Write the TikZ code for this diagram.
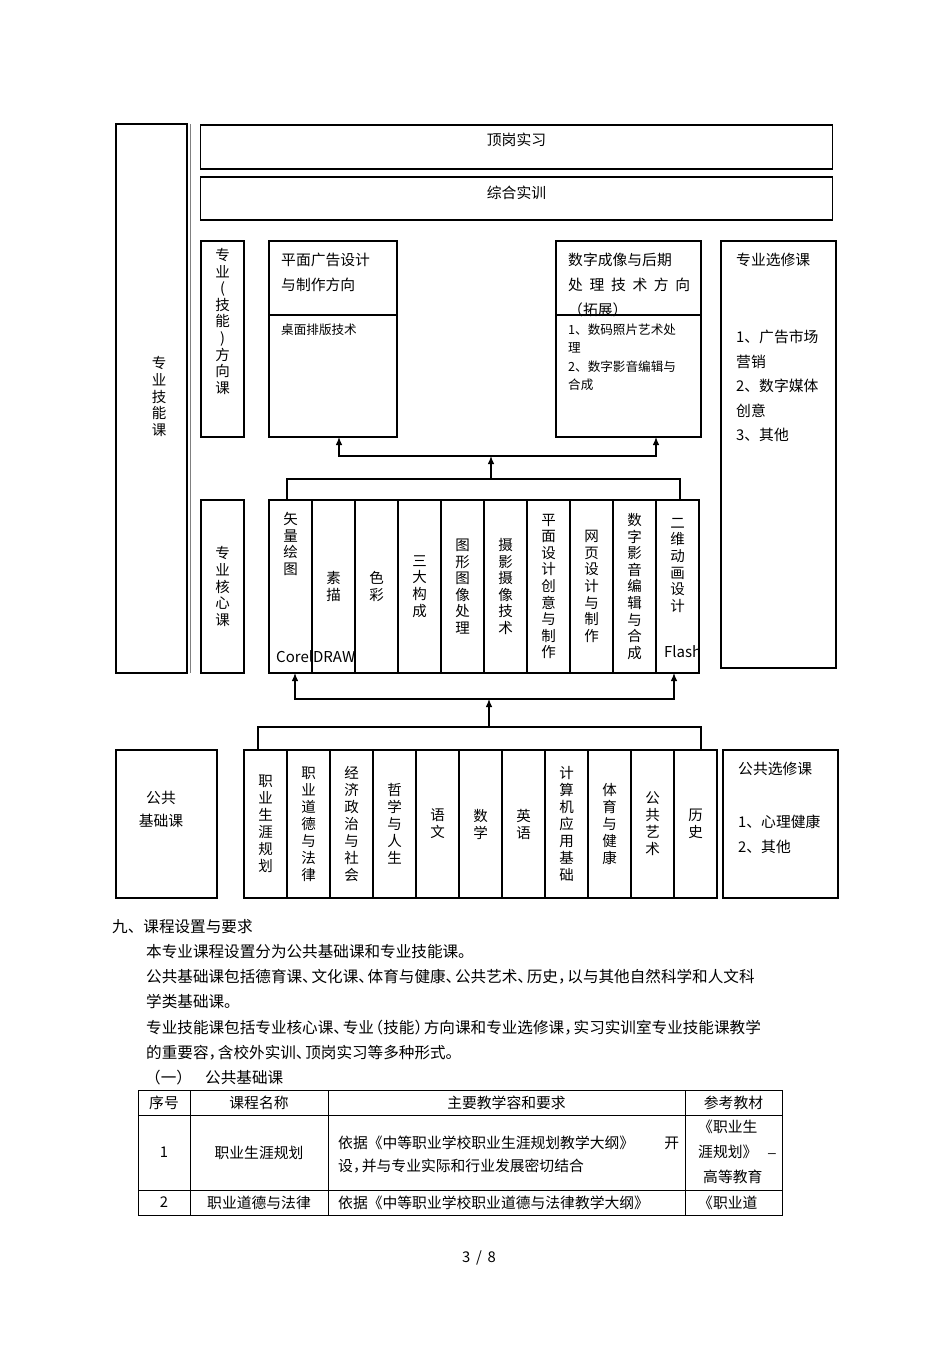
\documentclass[tikz,border=0pt]{standalone}
\usepackage{fontspec}
\setmainfont{Noto Sans CJK SC}
\usetikzlibrary{positioning,arrows.meta}

\newcommand\fbig{\fontsize{14.8}{25}\selectfont}
\newcommand\fsmall{\fontsize{12.6}{17.5}\selectfont}
\newcommand\fvert{\fontsize{14.5}{16.6}\selectfont}
\newcommand\fpub{\fontsize{14.5}{17}\selectfont}
\newcommand\fbody{\fontsize{15.6}{25.3}\selectfont}
\newcommand\ftab{\fontsize{14.8}{25}\selectfont}
\newcommand\fword{\fontsize{15}{17}\selectfont}
% narrow punctuation
\newcommand\dun{\makebox[.6em][l]{、}}
\newcommand\dou{\makebox[.6em][l]{，}}
\newcommand\lkh{\makebox[.6em][r]{（}}
\newcommand\rkh{\makebox[.6em][l]{）}}

\begin{document}
\begin{tikzpicture}[x=1pt, y=-1pt]
	\tikzstyle{box} = [draw, line width=1.1pt, inner sep=0pt, outer sep=0pt];
	\tikzstyle{col} = [box, minimum width=43pt, minimum height=173pt, align=center, font=\fvert];
	\tikzstyle{pcol} = [box, minimum width=43pt, minimum height=148pt, align=center, font=\fpub];
	\tikzstyle{txt} = [inner sep=0pt, align=left];
	\tikzstyle{link} = [draw, line width=1.1pt];
	\tikzstyle{arrow} = [link, -{Latex[length=8pt, width=6.5pt]}];
	\tikzstyle{cell} = [draw, line width=0.9pt, inner sep=0pt, outer sep=0pt, font=\ftab];
	
	\fill[white] (0,0) rectangle (950,1345);
	\useasboundingbox (0,0) rectangle (950,1345);
	
	% skill courses
	\node[box, minimum width=71pt, minimum height=549pt](jineng) at (151.5,398.5){};
	\draw[gray, line width=0.8pt] ([xshift=3pt]jineng.north east) -- ([xshift=3pt]jineng.south east);
	\node[txt, font={\fontsize{14.5}{16.8}\selectfont}, align=center](jinengtxt) at (159,396.5){专\\业\\技\\能\\课};
	
	\node[box, minimum width=632pt, minimum height=44pt](dinggang) at (516.5,147){};
	\node[txt, font=\fbig, below=8pt of dinggang.north](dinggangtxt){顶岗实习};
	\draw[line width=1.8pt] (dinggang.north west) |- (dinggang.south east);
	\node[box, minimum width=632pt, minimum height=43pt](zonghe) at (516.5,198.5){};
	\node[txt, font=\fbig, below=9pt of zonghe.north](zonghetxt){综合实训};
	\draw[line width=1.8pt] (zonghe.north west) |- (zonghe.south east);
	
	% direction courses
	\node[box, minimum width=43pt, minimum height=196pt](fangxiang) at (222.5,339){};
	\node[txt, font=\fvert, align=center, below=7pt of fangxiang.north](fangxiangtxt){专\\业\\(\\技\\能\\)\\方\\向\\课};
	
	\node[box, minimum width=128pt, minimum height=196pt](pingmian) at (333,339){};
	\draw[link] ([yshift=-74pt]pingmian.north west) -- ([yshift=-74pt]pingmian.north east);
	\node[txt, font=\fbig, anchor=north west](pingmiantxt) at (281,253){平面广告设计\\与制作方向};
	\node[txt, font=\fsmall, anchor=north west](zhuomian) at (281,324){桌面排版技术};
	
	\node[box, minimum width=145pt, minimum height=196pt](shuzi) at (628.5,339){};
	\draw[link] ([yshift=-74pt]shuzi.north west) -- ([yshift=-74pt]shuzi.north east);
	\node[txt, font=\fbig, anchor=north west](shuzitxt) at (568,253){数字成像与后期\\\makebox[122pt][s]{处 理 技 术 方 向}\\（拓展）};
	\node[txt, font=\fsmall, anchor=north west](shuzilist) at (568,324){1、数码照片艺术处\\理\\[2pt]2、数字影音编辑与\\合成};
	
	\node[box, minimum width=115pt, minimum height=427pt](xuanxiu) at (778.5,454.5){};
	\node[txt, font=\fbig, anchor=north west](xuanxiutxt) at (736,253){专业选修课};
	\node[txt, font={\fontsize{14.8}{24.5}\selectfont}, anchor=north west](xuanxiulist) at (736,330){1、广告市场\\营销\\2、数字媒体\\创意\\3、其他};
	
	% core courses
	\node[box, minimum width=43pt, minimum height=173pt, align=center, font=\fvert](hexin) at (222.5,586.5){专\\业\\核\\心\\课};
	\node[col](core1) at (290.5,586.5){};
	\node[col, right=0pt of core1](core2){素\\描};
	\node[col, right=0pt of core2](core3){色\\彩};
	\node[col, right=0pt of core3](core4){三\\大\\构\\成};
	\node[col, right=0pt of core4](core5){图\\形\\图\\像\\处\\理};
	\node[col, right=0pt of core5](core6){摄\\影\\摄\\像\\技\\术};
	\node[col, right=0pt of core6](core7){平\\面\\设\\计\\创\\意\\与\\制\\作};
	\node[col, right=0pt of core7](core8){网\\页\\设\\计\\与\\制\\作};
	\node[col, right=0pt of core8](core9){数\\字\\影\\音\\编\\辑\\与\\合\\成};
	\node[col, right=0pt of core9](core10){};
	\node[txt, font=\fvert, align=center, below=12pt of core1.north](core1txt){矢\\量\\绘\\图};
	\node[txt, font=\fword, anchor=west](corel) at (276,657){CorelDRAW};
	\node[txt, font=\fvert, align=center, below=18pt of core10.north](core10txt){二\\维\\动\\画\\设\\计};
	\node[txt, font=\fword, anchor=west](flash) at (664,652){Flash};
	
	% public courses
	\node[box, minimum width=101pt, minimum height=148pt](gonggong) at (166.5,824){};
	\node[txt, font={\fontsize{14.8}{23}\selectfont}, align=center](gonggongtxt) at (161,809){公共\\基础课};
	\node[pcol](pub1) at (265.5,824){职\\业\\生\\涯\\规\\划};
	\node[pcol, right=0pt of pub1](pub2){职\\业\\道\\德\\与\\法\\律};
	\node[pcol, right=0pt of pub2](pub3){经\\济\\政\\治\\与\\社\\会};
	\node[pcol, right=0pt of pub3](pub4){哲\\学\\与\\人\\生};
	\node[pcol, right=0pt of pub4](pub5){语\\文};
	\node[pcol, right=0pt of pub5](pub6){数\\学};
	\node[pcol, right=0pt of pub6](pub7){英\\语};
	\node[pcol, right=0pt of pub7](pub8){计\\算\\机\\应\\用\\基\\础};
	\node[pcol, right=0pt of pub8](pub9){体\\育\\与\\健\\康};
	\node[pcol, right=0pt of pub9](pub10){公\\共\\艺\\术};
	\node[pcol, right=0pt of pub10](pub11){历\\史};
	\draw[line width=1.8pt] (pub3.north west) -- (pub3.south west)
	(pub5.north west) -- (pub5.south west)
	(pub7.north west) -- (pub7.south west)
	(pub9.north west) -- (pub9.south west);
	
	\node[box, minimum width=115pt, minimum height=148pt](gxuan) at (780.5,824){};
	\node[txt, font=\fbig, anchor=north west](gxuantxt) at (738,762){公共选修课};
	\node[txt, font=\fbig, anchor=north west](gxuanlist) at (738,815){1、心理健康\\2、其他};
	
	% arrows
	\coordinate (pubjoin) at (489,727);
	\coordinate (corejoin) at (489,699);
	\draw[link] ([xshift=14pt]pub1.north west) |- (pubjoin) -| ([xshift=27pt]pub11.north west);
	\draw[arrow] (pubjoin) -- (corejoin);
	\draw[arrow] (corejoin) -| ([xshift=26pt]core1.south west);
	\draw[arrow] (corejoin) -| ([xshift=18pt]core10.south west);
	
	\coordinate (coretop) at (491,479);
	\coordinate (dirjoin) at (491,456);
	\draw[link] ([xshift=18pt]core1.north west) |- (coretop) -| ([xshift=24pt]core10.north west);
	\draw[arrow] (coretop) -- (dirjoin);
	\draw[arrow] (dirjoin) -| ([xshift=70pt]pingmian.south west);
	\draw[arrow] (dirjoin) -| ([xshift=100pt]shuzi.south west);
	
	% text below
	\node[txt, font=\fbody, anchor=north west](title) at (112,919){九、课程设置与要求};
	\node[txt, font=\fbody, anchor=north west](body) at (146,944){本专业课程设置分为公共基础课和专业技能课。\\公共基础课包括德育课\dun 文化课\dun 体育与健康\dun 公共艺术\dun 历史\dou 以与其他自然科学和人文科\\学类基础课。\\专业技能课包括专业核心课\dun 专业\lkh 技能\rkh 方向课和专业选修课\dou 实习实训室专业技能课教学\\的重要容\dou 含校外实训\dun 顶岗实习等多种形式。};
	\node[txt, font=\fbody, anchor=north west](sub1) at (145,1070){（一）};
	\node[txt, font=\fbody, anchor=north west](sub1txt) at (205,1070){公共基础课};
	
	% table
	\node[cell, minimum width=52pt, minimum height=25pt](h1) at (164,1102.5){序号};
	\node[cell, minimum width=138pt, minimum height=25pt, right=0pt of h1](h2){课程名称};
	\node[cell, minimum width=357pt, minimum height=25pt, right=0pt of h2](h3){主要教学容和要求};
	\node[cell, minimum width=97pt, minimum height=25pt, right=0pt of h3](h4){参考教材};
	\node[cell, minimum width=52pt, minimum height=75pt, below=0pt of h1](a1){1};
	\node[cell, minimum width=138pt, minimum height=75pt, below=0pt of h2](a2){职业生涯规划};
	\node[cell, minimum width=357pt, minimum height=75pt, below=0pt of h3](a3){};
	\node[cell, minimum width=97pt, minimum height=75pt, below=0pt of h4](a4){};
	\node[cell, minimum width=52pt, minimum height=25pt, below=0pt of a1](b1){2};
	\node[cell, minimum width=138pt, minimum height=25pt, below=0pt of a2](b2){职业道德与法律};
	\node[cell, minimum width=357pt, minimum height=25pt, below=0pt of a3](b3){};
	\node[cell, minimum width=97pt, minimum height=25pt, below=0pt of a4](b4){};
	\node[txt, font={\fontsize{14.8}{23}\selectfont}, anchor=north west](a3txt) at (338,1136){\makebox[341pt][l]{依据《中等职业学校职业生涯规划教学大纲》\hfill 开}\\设\dou 并与专业实际和行业发展密切结合};
	\node[txt, font=\ftab, anchor=north west](a4txt) at (698,1120){《职业生\\涯规划》\\\hspace*{5pt}高等教育};
	\node[txt, font=\ftab](a4dash) at (772,1154){\_};
	\node[txt, font=\ftab, anchor=west](b3txt) at (338,1203){依据《中等职业学校职业道德与法律教学大纲》};
	\node[txt, font=\ftab, anchor=west](b4txt) at (698,1203){《职业道};
	
	\node[txt, font=\ftab](pagenum) at (479,1258){3 \,/\, 8};
\end{tikzpicture}
\end{document}
